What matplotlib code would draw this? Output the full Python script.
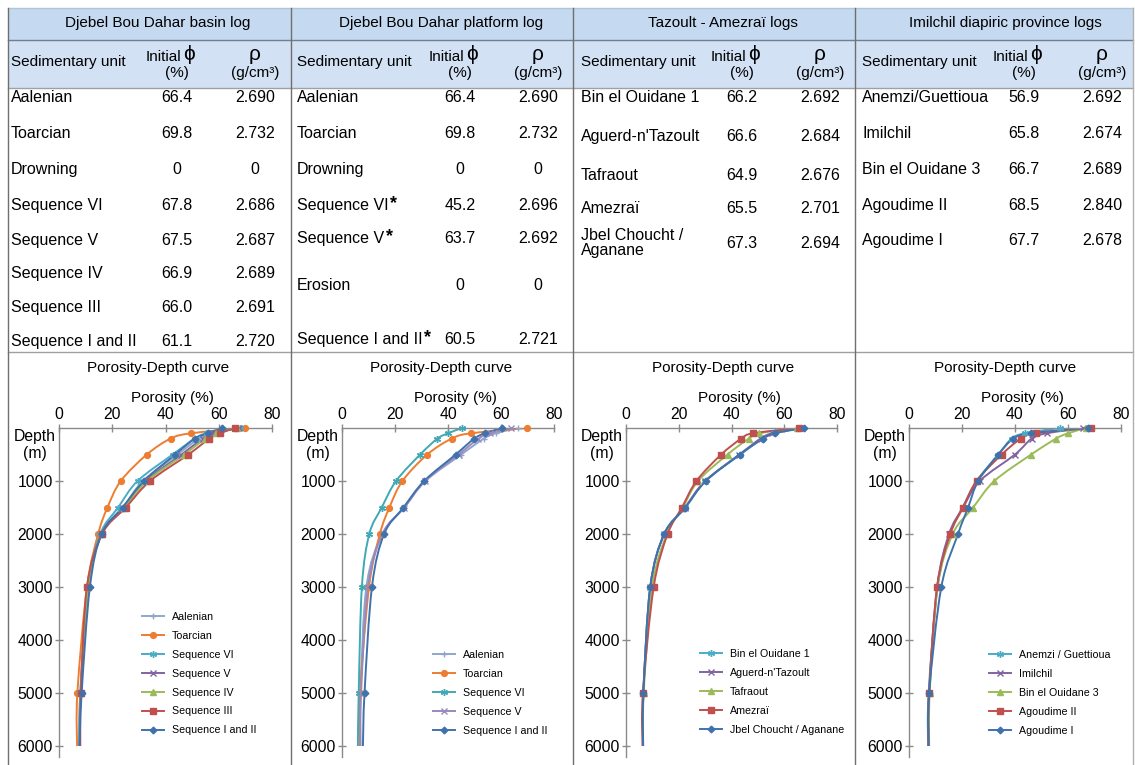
import matplotlib
matplotlib.use('Agg')
import matplotlib.pyplot as plt
import numpy as np
from matplotlib.path import Path
from matplotlib.patches import PathPatch, Rectangle
from matplotlib.lines import Line2D

plt.rcParams['font.family'] = ['Liberation Sans', 'DejaVu Sans']

W, H = 1135, 765

# ---- table data -------------------------------------------------------
titles = ["Djebel Bou Dahar basin log", "Djebel Bou Dahar platform log",
          "Tazoult - Amezraï logs", "Imilchil diapiric province logs"]

units_1 = ["Aalenian", "Toarcian", "Drowning", "Sequence VI", "Sequence V",
           "Sequence IV", "Sequence III", "Sequence I and II"]
phi_1 = ["66.4", "69.8", "0", "67.8", "67.5", "66.9", "66.0", "61.1"]
rho_1 = ["2.690", "2.732", "0", "2.686", "2.687", "2.689", "2.691", "2.720"]
rows_1 = [97, 133, 169, 205, 240, 273, 307, 341]

units_2 = ["Aalenian", "Toarcian", "Drowning", "Sequence VI", "Sequence V",
           "Erosion", "Sequence I and II"]
star_2 = [False, False, False, True, True, False, True]
phi_2 = ["66.4", "69.8", "0", "45.2", "63.7", "0", "60.5"]
rho_2 = ["2.690", "2.732", "0", "2.696", "2.692", "0", "2.721"]
rows_2 = [97, 133, 169, 205, 238, 285, 339]

units_3 = ["Bin el Ouidane 1", "Aguerd-n'Tazoult", "Tafraout", "Amezraï",
           "Jbel Choucht /\nAganane"]
phi_3 = ["66.2", "66.6", "64.9", "65.5", "67.3"]
rho_3 = ["2.692", "2.684", "2.676", "2.701", "2.694"]
rows_3 = [97, 136, 175, 208, 243]

units_4 = ["Anemzi/Guettioua", "Imilchil", "Bin el Ouidane 3", "Agoudime II",
           "Agoudime I"]
phi_4 = ["56.9", "65.8", "66.7", "68.5", "67.7"]
rho_4 = ["2.692", "2.674", "2.689", "2.840", "2.678"]
rows_4 = [97, 133, 169, 205, 240]

# ---- porosity-depth data ----------------------------------------------
depth = [0, 100, 200, 500, 1000, 1500, 2000, 3000, 5000, 6000]

names_1 = ["Aalenian", "Toarcian", "Sequence VI", "Sequence V",
           "Sequence IV", "Sequence III", "Sequence I and II"]
por_1 = [
    [66.4, 57.0, 52.5, 44.5, 31.5, 24.0, 16.0, 11.0, 8.0, 7.6],
    [69.8, 49.6, 41.9, 33.0, 23.2, 18.2, 14.7, 10.5, 6.9, 6.8],
    [67.8, 55.5, 51.0, 42.7, 29.5, 22.2, 15.5, 10.8, 8.0, 7.6],
    [67.5, 58.0, 54.0, 46.0, 32.5, 24.0, 16.0, 11.0, 8.2, 7.8],
    [66.9, 59.0, 55.0, 47.0, 33.0, 24.5, 16.0, 11.0, 8.2, 7.8],
    [66.0, 60.5, 56.5, 48.6, 34.2, 25.1, 16.2, 10.5, 8.2, 8.0],
    [61.1, 56.0, 51.0, 43.6, 31.9, 23.9, 16.0, 11.6, 8.5, 7.7],
]
names_2 = ["Aalenian", "Toarcian", "Sequence VI", "Sequence V",
           "Sequence I and II"]
por_2 = [
    [66.4, 58.0, 53.5, 45.0, 31.5, 23.5, 15.2, 9.2, 7.0, 6.8],
    [69.8, 48.7, 41.4, 32.2, 22.8, 17.9, 14.3, 10.2, 6.8, 6.7],
    [45.2, 40.0, 36.0, 29.5, 20.4, 15.0, 10.3, 7.5, 6.3, 6.0],
    [63.7, 56.0, 51.5, 44.0, 31.3, 23.5, 15.3, 9.8, 7.2, 7.0],
    [60.5, 53.9, 49.9, 42.9, 31.0, 23.2, 15.9, 11.3, 8.5, 7.9],
]
names_3 = ["Bin el Ouidane 1", "Aguerd-n'Tazoult", "Tafraout", "Amezraï",
           "Jbel Choucht / Aganane"]
por_3 = [
    [66.2, 56.0, 51.6, 43.4, 30.1, 22.5, 14.5, 9.2, 6.6, 6.4],
    [66.6, 55.5, 51.0, 43.0, 30.0, 22.3, 14.5, 9.2, 6.6, 6.4],
    [64.9, 50.5, 46.5, 38.5, 27.3, 21.5, 15.5, 9.9, 6.7, 6.5],
    [65.5, 48.2, 43.7, 36.1, 26.7, 21.2, 15.8, 10.5, 6.4, 6.3],
    [67.3, 56.5, 52.0, 43.1, 30.3, 22.5, 14.5, 9.2, 6.6, 6.5],
]
names_4 = ["Anemzi / Guettioua", "Imilchil", "Bin el Ouidane 3",
           "Agoudime II", "Agoudime I"]
por_4 = [
    [56.9, 43.8, 38.7, 33.7, 25.5, 20.2, 15.5, 10.8, 7.4, 7.2],
    [65.8, 52.0, 46.3, 40.0, 26.7, 20.4, 15.1, 10.6, 7.6, 7.4],
    [66.7, 60.0, 55.5, 46.1, 32.2, 24.2, 16.5, 10.8, 7.8, 7.6],
    [68.5, 48.0, 42.3, 35.0, 25.5, 20.4, 15.6, 10.6, 7.6, 7.4],
    [67.7, 46.0, 39.4, 33.7, 26.1, 22.3, 18.5, 12.2, 7.6, 7.4],
]

# marker / colour styles per series: (colour, marker, marker size)
AAL = ('#8fa6cc', '+', 5)
TOA = ('#ed7d31', 'o', 4.2)
AQU = ('#4bacc6', (6, 2, 0), 5)
PUR = ('#8064a2', 'x', 4.2)
GRN = ('#9bbb59', '^', 4.2)
RED = ('#c0504d', 's', 4)
BLU = ('#3f72ad', 'D', 3.4)
styles_1 = [AAL, TOA, AQU, PUR, GRN, RED, BLU]
styles_2 = [AAL, TOA, ('#3fa9b5', (6, 2, 0), 5), ('#9a88c0', 'x', 4.2), BLU]
styles_3 = [AQU, PUR, GRN, RED, BLU]
styles_4 = [AQU, PUR, GRN, RED, BLU]

fig = plt.figure(figsize=(W / 100, H / 100), dpi=100)
bg = fig.add_axes([0, 0, 1, 1])
bg.set_xlim(0, W)
bg.set_ylim(H, 0)
bg.axis('off')

lefts = [8, 291, 573, 855]
name_off = [3, 6, 8, 7]
line_c = '#8a8a8a'

# header background and grid lines
bg.add_patch(Rectangle((8, 8), 1125, 32, facecolor='#c5d9f1', edgecolor='none'))
bg.add_patch(Rectangle((8, 40), 1125, 48, facecolor='#d2e1f4', edgecolor='none'))
bg.plot([8, 1133], [8, 8], color='#b0c4dc', lw=1)
bg.plot([8, 1133], [40, 40], color='#6f7f90', lw=1)
bg.plot([8, 1133], [88, 88], color='#a0a0a0', lw=1)
bg.plot([8, 1133], [352, 352], color='#a0a0a0', lw=1)
for x in lefts:
    bg.plot([x, x], [8, 765], color='#6f6f6f', lw=1)
bg.plot([1133, 1133], [8, 765], color='#b0b0b0', lw=1)

tables = [(units_1, phi_1, rho_1, rows_1, [False] * 8),
          (units_2, phi_2, rho_2, rows_2, star_2),
          (units_3, phi_3, rho_3, rows_3, [False] * 5),
          (units_4, phi_4, rho_4, rows_4, [False] * 5)]

for i, (units, phis, rhos, rows, stars) in enumerate(tables):
    L = lefts[i]
    bg.text(L + 150, 23, titles[i], ha='center', va='center', fontsize=11)
    bg.text(L + name_off[i], 62, "Sedimentary unit", ha='left', va='center', fontsize=11)
    bg.text(L + 173, 57, "Initial", ha='right', va='center', fontsize=11)
    bg.text(L + 175, 54, "ϕ", ha='left', va='center', fontsize=15)
    bg.text(L + 169, 73, "(%)", ha='center', va='center', fontsize=11)
    bg.text(L + 247, 54, "ρ", ha='center', va='center', fontsize=15)
    bg.text(L + 247, 73, "(g/cm³)", ha='center', va='center', fontsize=11)
    for u, p, r, y, s in zip(units, phis, rhos, rows, stars):
        t = bg.text(L + name_off[i], y, u, ha='left', va='center', fontsize=11.5,
                    linespacing=1.0)
        if s:
            bg.annotate("*", xy=(1, 1), xycoords=t, xytext=(1, 2),
                        textcoords='offset points', ha='left', va='top',
                        fontsize=13, fontweight='bold')
        bg.text(L + 169, y, p, ha='center', va='center', fontsize=11.5)
        bg.text(L + 247, y, r, ha='center', va='center', fontsize=11.5)


def smooth_path(xs, ys):
    # Catmull-Rom style smoothed line through the data points
    pts = np.column_stack([xs, ys]).astype(float)
    n = len(pts)
    verts = [pts[0]]
    codes = [Path.MOVETO]
    for k in range(n - 1):
        p0 = pts[k - 1] if k > 0 else pts[k]
        p1, p2 = pts[k], pts[k + 1]
        p3 = pts[k + 2] if k + 2 < n else pts[k + 1]
        verts += [p1 + (p2 - p0) / 6, p2 - (p3 - p1) / 6, p2]
        codes += [Path.CURVE4] * 3
    return Path(verts, codes)


# plot area geometry (pixels)
x0s = [59, 342, 626, 909]
x1s = [272, 554, 837, 1121]
y_top = 428
px_per_m = 0.053
y_max = 6200
y_bot = y_top + y_max * px_per_m
legend_pos = [(142, 612), (433, 650), (700, 649), (989, 650)]

panels = [(names_1, por_1, styles_1), (names_2, por_2, styles_2),
          (names_3, por_3, styles_3), (names_4, por_4, styles_4)]

for i, (names, pors, styles) in enumerate(panels):
    x0, x1 = x0s[i], x1s[i]
    ax = fig.add_axes([x0 / W, 1 - y_bot / H, (x1 - x0) / W, (y_bot - y_top) / H])
    ax.set_xlim(0, 80)
    ax.set_ylim(y_max, 0)
    ax.patch.set_alpha(0)
    for side in ['right', 'bottom']:
        ax.spines[side].set_visible(False)
    for side in ['top', 'left']:
        ax.spines[side].set_color(line_c)
        ax.spines[side].set_linewidth(1)
    ax.xaxis.tick_top()
    ax.set_xticks([0, 20, 40, 60, 80])
    ax.set_yticks([1000, 2000, 3000, 4000, 5000, 6000])
    ax.tick_params(direction='inout', length=6, width=1, color=line_c,
                   labelsize=11.3, pad=1.5)
    handles = []
    for name, por, (c, m, ms) in zip(names, pors, styles):
        ax.add_patch(PathPatch(smooth_path(por, depth), fill=False,
                               edgecolor=c, lw=1.4, zorder=2))
        ax.plot(por[:-1], depth[:-1], ls='none', marker=m, color=c, ms=ms,
                mew=1.0, clip_on=False, zorder=3)
        handles.append(Line2D([], [], color=c, marker=m, lw=1.4, ms=ms, mew=1.0))
    lx, ly = legend_pos[i]
    ax.legend(handles, names, loc='upper left', bbox_to_anchor=(lx / W, 1 - ly / H),
              bbox_transform=fig.transFigure, frameon=False, fontsize=7.7,
              handlelength=2.1, handletextpad=0.7, labelspacing=0.83,
              borderpad=0, borderaxespad=0)

    L = lefts[i]
    bg.text(L + 150, 368, "Porosity-Depth curve", ha='center', va='center', fontsize=11)
    bg.text(x0 + 113, 398, "Porosity (%)", ha='center', va='center', fontsize=11)
    bg.text(x0 - 24, 436, "Depth", ha='center', va='center', fontsize=11.3)
    bg.text(x0 - 24, 453, "(m)", ha='center', va='center', fontsize=11.3)

fig.savefig("out.png", dpi=100)
